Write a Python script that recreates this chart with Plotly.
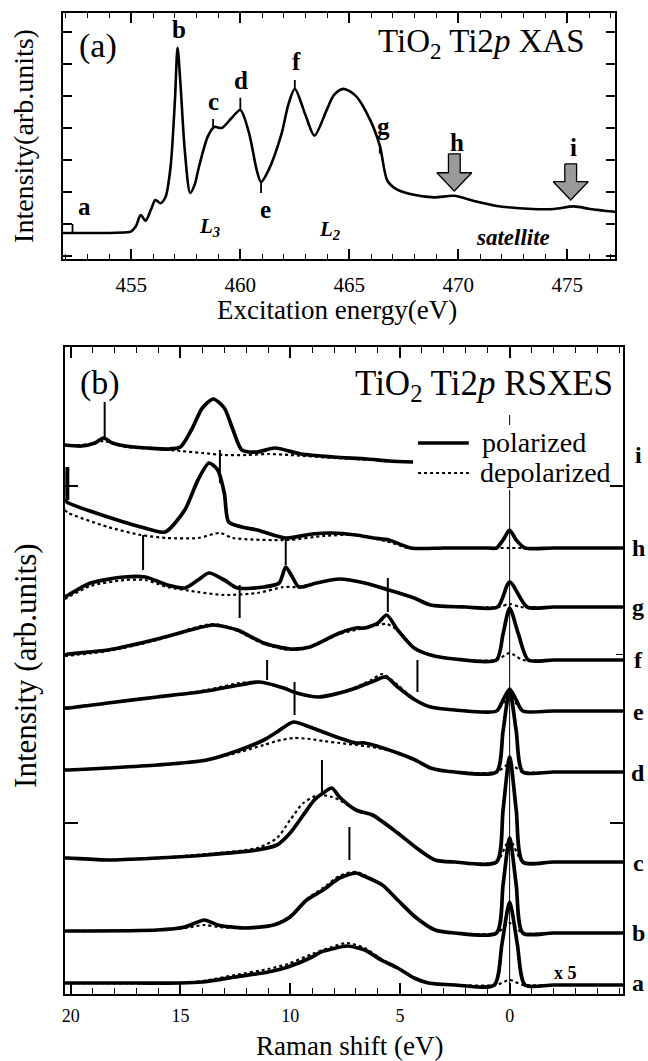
import plotly.graph_objects as go

W, H = 648, 1061

# ---------------- Panel (a): TiO2 Ti2p XAS ----------------
xas_energy = [451.85, 452.3, 454.0, 454.8, 454.97, 455.2, 455.43, 455.65, 455.9, 456.1,
              456.34, 456.57, 456.8, 457.0, 457.12, 457.25, 457.45, 457.7, 457.9, 458.1,
              458.5, 458.8, 459.15, 459.6, 460.0, 460.4, 460.75, 460.95, 461.3, 461.9,
              462.2, 462.5, 463.0, 463.4, 463.97, 464.3, 464.73, 465.3, 465.95, 466.4,
              466.75, 467.2, 467.9, 468.9, 469.8, 470.77, 471.7, 473.4, 474.4, 475.3,
              476.05, 477.2]
xas_intensity = [0.72, 0.72, 0.72, 0.74, 0.76, 0.92, 1.28, 1.10, 1.45, 1.75,
                 1.65, 1.85, 2.79, 4.88, 6.5, 5.41, 3.31, 1.97, 2.22, 2.78,
                 3.72, 4.03, 4.0, 4.31, 4.56, 3.84, 2.69, 2.31, 2.69, 3.84,
                 4.72, 5.22, 4.38, 3.76, 4.57, 5.03, 5.22, 5.0, 4.26, 3.45,
                 2.35, 2.07, 1.92, 1.83, 1.88, 1.71, 1.57, 1.47, 1.47, 1.55,
                 1.47, 1.38]

xas_labels = ["a", "b", "c", "d", "e", "f", "g", "h", "i"]
xas_label_energy = [452.84, 457.18, 458.78, 460.02, 461.14, 462.58, 466.58, 469.93, 475.27]
xas_label_y = [1.54, 7.08, 4.82, 5.47, 1.45, 6.08, 4.05, 3.56, 3.38]
# small vertical markers (energy, y bottom, y top)
xas_mark_energy = [452.3, 458.75, 460.0, 460.95, 462.5, 466.4]
xas_mark_lo = [0.72, 4.03, 4.56, 1.97, 5.22, 3.2]
xas_mark_hi = [1.0, 4.28, 4.94, 2.31, 5.50, 3.45]
# grey arrows (satellite)
arrow_energy = [469.82, 475.16]
arrow_top = [3.19, 2.875]
arrow_tip = [2.03, 1.75]

# ---------------- Panel (b): RSXES spectra ----------------
spec_names = ["a", "b", "c", "d", "e", "f", "g", "h", "i"]
offsets = [9, 61, 132, 222, 283, 334, 387, 446, 532]
label_y = [11, 61, 131, 221, 282, 334, 387, 446, 539]

a_pol_E = [20.27, 17, 15, 14, 12.5, 11, 10.1, 9.0, 8.6, 8.1, 7.4, 6.6, 5.85, 5.1, 4.35, 3.7, 2.5, 0.7, 0.35, 0, -0.35, -0.7, -2, -5.17]
a_pol_I = [2, 2, 2, 3, 8, 13, 18, 28, 33, 36, 39, 35, 25, 17, 7, 2, 0, 0, 41, 83, 41, 0, 0, 0]
a_dep_E = [20.27, 15, 14, 12.5, 11, 10.1, 9.0, 8.1, 7.4, 6.6, 5.85, 5.1, 4.35, 3.7, 2.5, 0.6, 0, -0.6, -2, -5.17]
a_dep_I = [2, 2, 4, 10, 16, 21, 31, 38, 42, 37, 26, 17, 7, 2, 0, 0, 5, 0, 0, 0]

b_pol_E = [20.27, 20.1, 16.05, 14.8, 13.9, 13.3, 12.1, 10.75, 10.0, 9.25, 8.5, 7.75, 7.0, 6.75, 5.8, 5.1, 4.3, 3.4, 2.5, 0.6, 0.3, 0, -0.3, -0.6, -2, -5.17]
b_pol_I = [2, 2, 3, 6, 13, 8, 5, 8, 16, 33, 43, 55, 60, 58, 48, 33, 16, 3, 0, 0, 48, 95, 48, 0, 0, 0]
b_dep_E = [20.27, 16.05, 14.8, 13.9, 13.3, 12.1, 10.75, 10.0, 9.25, 8.5, 7.75, 7.0, 5.8, 5.1, 4.3, 3.4, 2.5, 0.6, 0, -0.6, -2, -5.17]
b_dep_I = [2, 3, 5, 8, 6, 5, 8, 17, 34, 45, 57, 61, 48, 33, 16, 3, 0, 0, 10, 0, 0, 0]

c_pol_E = [20.27, 20.1, 18.3, 16.05, 13.8, 11.5, 10.6, 10.0, 9.4, 8.9, 8.5, 8.1, 7.75, 7.0, 6.25, 5.1, 4.3, 3.4, 2.5, 0.6, 0.3, 0, -0.3, -0.6, -2, -5.17]
c_pol_I = [4, 4, 2, 4, 7, 12, 17, 29, 47, 62, 69, 74, 65, 52, 47, 29, 15, 2, 0, 0, 52, 105, 52, 0, 0, 0]
c_dep_E = [20.27, 18.3, 16.05, 13.8, 11.5, 10.6, 10.0, 9.4, 8.7, 8.1, 7.75, 7.0, 6.25, 5.1, 4.3, 3.4, 2.5, 0.6, 0, -0.6, -2, -5.17]
c_dep_I = [4, 2, 4, 8, 14, 24, 42, 59, 67, 65, 62, 52, 47, 29, 15, 2, 0, 0, 22, 0, 0, 0]

d_pol_E = [20.27, 20.1, 18.3, 16.05, 13.8, 12.3, 11.2, 10.6, 9.85, 9.1, 8.5, 7.75, 7.0, 6.6, 5.1, 4.3, 3.6, 2.5, 0.6, 0.3, 0, -0.3, -0.6, -2, -5.17]
d_pol_I = [2, 2, 4, 7, 12, 22, 32, 40, 50, 45, 40, 34, 29, 29, 19, 12, 4, 0, 0, 41, 82, 41, 0, 0, 0]
d_dep_E = [20.27, 18.3, 16.05, 13.8, 12.3, 11.2, 10.6, 9.85, 9.1, 8.5, 7.75, 7.0, 6.0, 5.1, 4.3, 3.6, 2.5, 0.6, 0, -0.6, -2, -5.17]
d_dep_I = [2, 4, 7, 12, 20, 27, 31, 34, 33, 31, 29, 27, 24, 19, 12, 4, 0, 0, 8, 0, 0, 0]

e_pol_E = [20.27, 20.1, 18.3, 16.05, 13.8, 12.3, 11.4, 10.3, 9.7, 8.7, 7.75, 7.0, 6.3, 5.64, 5.1, 4.3, 3.6, 2.5, 0.6, 0.3, 0, -0.3, -0.6, -2, -5.17]
e_pol_I = [3, 3, 8, 14, 20, 26, 29, 23, 18, 14, 18, 23, 29, 34, 24, 11, 4, 1, 0, 11, 22, 11, 0, 0, 0]
e_dep_E = [20.27, 18.3, 16.05, 13.8, 12.3, 11.4, 10.3, 9.7, 8.7, 7.75, 7.0, 6.3, 5.8, 5.1, 4.3, 3.6, 2.5, 0.6, 0, -0.6, -2, -5.17]
e_dep_I = [3, 8, 14, 21, 28, 29, 23, 18, 14, 18, 24, 31, 37, 26, 11, 4, 1, 0, 15, 0, 0, 0]

f_pol_E = [20.27, 20.1, 18.3, 16.05, 14.55, 13.5, 12.4, 11.2, 10.0, 9.1, 7.75, 7.0, 6.6, 6.0, 5.6, 5.1, 4.35, 3.6, 2.5, 0.6, 0.3, 0.0, -0.4, -0.85, -2, -5.17]
f_pol_I = [5, 6, 10, 21, 30, 35, 30, 17, 11, 13, 27, 32, 32, 37, 45, 30, 12, 5, 1, 0, 26, 52, 26, 0, 0, 0]
f_dep_E = [20.27, 18.3, 16.05, 14.55, 13.5, 12.4, 11.2, 10.0, 9.1, 7.75, 6.6, 5.6, 5.0, 4.35, 3.6, 2.5, 0.6, 0, -0.6, -2, -5.17]
f_dep_I = [4, 9, 20, 31, 36, 29, 16, 10, 13, 26, 32, 36, 28, 12, 5, 1, 0, 7, 0, 0, 0]

g_pol_E = [20.27, 20.1, 19.1, 17.55, 16.6, 15.6, 14.8, 14.2, 13.7, 13.0, 12.4, 11.2, 10.5, 10.2, 9.9, 9.6, 8.8, 7.75, 6.6, 5.5, 4.35, 3.6, 2.0, 0.55, 0.0, -0.8, -2.0, -5.17]
g_pol_I = [10, 12, 24, 30, 30, 22, 19, 27, 34, 27, 19, 20, 24, 40, 30, 20, 24, 28, 24, 17, 9, 2, 0, 0, 25, 0, 0, 0]
g_dep_E = [20.27, 19.1, 17.55, 16.6, 15.6, 14.2, 13.0, 11.5, 10.3, 9.6, 8.8, 7.75, 6.6, 5.5, 4.35, 3.6, 2.0, 0.5, 0, -0.5, -2, -5.17]
g_dep_I = [8, 21, 27, 27, 20, 15, 12, 14, 20, 20, 24, 28, 24, 17, 9, 2, 0, 0, 3, 0, 0, 0]

h_pol_E = [20.27, 20.1, 18.3, 16.8, 15.7, 14.8, 14.2, 13.7, 13.3, 13.0, 12.8, 12.2, 11.5, 10.2, 9.0, 8.1, 7.0, 6.2, 5.5, 4.5, 3.0, 1.0, 0.6, 0.3, 0.0, -0.3, -0.7, -2.0, -5.17]
h_pol_I = [48, 45, 31, 21, 16, 38, 68, 85, 78, 55, 26, 21, 18, 10, 14, 15, 13, 10, 8, 0, 0, 0, 0, 8, 18, 8, 0, 0, 0]
h_dep_E = [20.27, 20.1, 18.3, 16.8, 15.6, 14.2, 13.2, 12.6, 10.1, 8.5, 7.0, 5.5, 4.6, 3, 0, -5.17]
h_dep_I = [38, 35, 21, 13, 10, 10, 15, 10, 8, 12, 13, 6, 0, 0, 0, 0]

i_pol_E = [20.27, 19.5, 18.9, 18.5, 18.1, 17.5, 16.5, 15.5, 15.0, 14.5, 14.0, 13.5, 13.0, 12.6, 12.2, 11.5, 10.7, 9.5, 8.0, 6.5, 5.5, 4.4]
i_pol_I = [17, 16, 19, 24, 19, 16, 14, 13, 15, 32, 54, 63, 54, 32, 12, 10, 14, 8, 5, 3, 1, 0]
i_dep_E = [20.27, 19.0, 18.5, 17.5, 16.0, 15.0, 14.0, 13.0, 12.0, 11.0, 10.0, 8.0, 6.0, 4.4]
i_dep_I = [16, 18, 21, 15, 13, 11, 9, 7, 7, 8, 7, 4, 2, 0]

pol_E = [a_pol_E, b_pol_E, c_pol_E, d_pol_E, e_pol_E, f_pol_E, g_pol_E, h_pol_E, i_pol_E]
pol_I = [a_pol_I, b_pol_I, c_pol_I, d_pol_I, e_pol_I, f_pol_I, g_pol_I, h_pol_I, i_pol_I]
dep_E = [a_dep_E, b_dep_E, c_dep_E, d_dep_E, e_dep_E, f_dep_E, g_dep_E, h_dep_E, i_dep_E]
dep_I = [a_dep_I, b_dep_I, c_dep_I, d_dep_I, e_dep_I, f_dep_I, g_dep_I, h_dep_I, i_dep_I]

# excitation markers in (b): (energy, y bottom, y top, width)
rs_mark_energy = [18.45, 0.0, 13.2, 20.15, 16.7, 10.2, 12.3, 5.55, 11.05, 4.2, 9.8, 8.55, 7.3]
rs_mark_lo = [557, 569, 511, 494, 424, 429, 376, 382, 314, 302, 279, 202, 134]
rs_mark_hi = [592, 579, 544, 527, 459, 456, 409, 416, 334, 334, 312, 234, 167]
rs_mark_w = [2, 1, 2, 4, 2, 2, 2, 2, 2, 2, 2, 2, 2]
elastic_line_top = 504

SERIF = "Liberation Serif"

fig = go.Figure()

# ---- panel (a) traces ----
fig.add_trace(go.Scatter(x=xas_energy, y=xas_intensity, mode="lines",
                         line=dict(color="black", width=2.6, shape="spline", smoothing=0.8),
                         xaxis="x", yaxis="y", showlegend=False, hoverinfo="skip"))
for e0, top, tip in zip(arrow_energy, arrow_top, arrow_tip):
    sw, hw = 0.27, 0.8
    base = tip + 0.57
    xs = [e0 - sw, e0 + sw, e0 + sw, e0 + hw, e0, e0 - hw, e0 - sw, e0 - sw]
    ys = [top, top, base, base, tip, base, base, top]
    fig.add_trace(go.Scatter(x=xs, y=ys, mode="lines", fill="toself",
                             fillcolor="#9a9a9a", line=dict(color="black", width=1.3),
                             xaxis="x", yaxis="y", showlegend=False, hoverinfo="skip"))
for e0, lo, hi in zip(xas_mark_energy, xas_mark_lo, xas_mark_hi):
    fig.add_trace(go.Scatter(x=[e0, e0], y=[lo, hi], mode="lines",
                             line=dict(color="black", width=1.8),
                             xaxis="x", yaxis="y", showlegend=False, hoverinfo="skip"))

# ---- panel (b) traces ----
for k in range(len(spec_names)):
    off = offsets[k]
    fig.add_trace(go.Scatter(x=dep_E[k], y=[off + v for v in dep_I[k]], mode="lines",
                             line=dict(color="black", width=2.2, dash="dot",
                                       shape="spline", smoothing=0.7),
                             xaxis="x2", yaxis="y2", showlegend=False, hoverinfo="skip"))
    fig.add_trace(go.Scatter(x=pol_E[k], y=[off + v for v in pol_I[k]], mode="lines",
                             line=dict(color="black", width=3.7,
                                       shape="spline", smoothing=0.7),
                             xaxis="x2", yaxis="y2", showlegend=False, hoverinfo="skip"))

fig.add_trace(go.Scatter(x=[0, 0], y=[0, elastic_line_top], mode="lines",
                         line=dict(color="black", width=1),
                         xaxis="x2", yaxis="y2", showlegend=False, hoverinfo="skip"))
for e0, lo, hi, w in zip(rs_mark_energy, rs_mark_lo, rs_mark_hi, rs_mark_w):
    fig.add_trace(go.Scatter(x=[e0, e0], y=[lo, hi], mode="lines",
                             line=dict(color="black", width=w),
                             xaxis="x2", yaxis="y2", showlegend=False, hoverinfo="skip"))

ann = []
def txt(x, y, s, size, xref="paper", yref="paper", font=SERIF, xanchor="center",
        yanchor="middle", angle=0):
    ann.append(dict(x=x, y=y, xref=xref, yref=yref, text=s, showarrow=False,
                    font=dict(family=font, size=size, color="black"),
                    xanchor=xanchor, yanchor=yanchor, textangle=angle))

# panel (a) texts
for lab, ex, ey in zip(xas_labels, xas_label_energy, xas_label_y):
    txt(ex, ey, "<b>%s</b>" % lab, 25, xref="x", yref="y")
txt(458.6, 0.9, "<b><i>L<sub>3</sub></i></b>", 21, xref="x", yref="y")
txt(464.07, 0.82, "<b><i>L<sub>2</sub></i></b>", 21, xref="x", yref="y")
txt(472.53, 0.59, "<b><i>satellite</i></b>", 23, xref="x", yref="y")
txt(95 / W, 1 - 46 / H, "(a)", 34)
txt(587 / W, 1 - 44 / H, "TiO<sub>2</sub> Ti2<i>p</i> XAS", 33, xanchor="right")
txt(336 / W, 1 - 310 / H, "Excitation energy(eV)", 27)
txt(20 / W, 1 - 136 / H, "Intensity(arb.units)", 28, angle=-90)

# panel (b) texts
for lab, ly in zip(spec_names, label_y):
    txt(638 / W, ly, "<b>%s</b>" % lab, 24, yref="y2")
txt(-2.55, 21, "<b>x 5</b>", 18, xref="x2", yref="y2")
txt(97 / W, 1 - 383 / H, "(b)", 34)
txt(615 / W, 1 - 385 / H, "TiO<sub>2</sub> Ti2<i>p</i> RSXES", 35, xanchor="right")
txt(479 / W, 1 - 442 / H, "polarized", 28, xanchor="left")
txt(477 / W, 1 - 472 / H, "depolarized", 28, xanchor="left")
txt(348 / W, 1 - 1046 / H, "Raman shift (eV)", 27)
txt(22 / W, 1 - 665 / H, "Intensity (arb.units)", 31, angle=-90)

shapes = [
    dict(type="line", xref="paper", yref="paper", x0=417 / W, x1=468 / W,
         y0=1 - 443 / H, y1=1 - 443 / H, line=dict(color="black", width=3.4)),
    dict(type="line", xref="paper", yref="paper", x0=417 / W, x1=468 / W,
         y0=1 - 473 / H, y1=1 - 473 / H, line=dict(color="black", width=2.2, dash="dot")),
]

axis_common = dict(showgrid=False, zeroline=False, showline=True, linecolor="black",
                   linewidth=2, mirror="allticks", ticks="inside", tickcolor="black")

fig.update_layout(
    width=W, height=H, margin=dict(l=0, r=0, t=0, b=0),
    paper_bgcolor="white", plot_bgcolor="white",
    showlegend=False, annotations=ann, shapes=shapes,
    xaxis=dict(domain=[60 / W, 615 / W], anchor="y", range=[451.85, 477.2],
               tickmode="linear", tick0=455, dtick=5, ticklen=10, tickwidth=1.6,
               tickfont=dict(family=SERIF, size=21, color="black"),
               ticklabelstandoff=6,
               minor=dict(tickmode="linear", tick0=455, dtick=1, ticklen=5,
                          tickwidth=1.3, ticks="inside", tickcolor="black"),
               **axis_common),
    yaxis=dict(domain=[1 - 259 / H, 1 - 13 / H], anchor="x", range=[-0.094, 7.59],
               tickmode="linear", tick0=0, dtick=1, ticklen=9, tickwidth=1.6,
               showticklabels=False, **axis_common),
    xaxis2=dict(domain=[62 / W, 623 / W], anchor="y2", range=[20.27, -5.17],
                tickmode="array", tickvals=[20, 15, 10, 5, 0],
                ticklen=11, tickwidth=1.6,
                tickfont=dict(family=SERIF, size=18, color="black"),
                ticklabelstandoff=4,
                minor=dict(tickmode="linear", tick0=0, dtick=1, ticklen=6,
                           tickwidth=1.3, ticks="inside", tickcolor="black"),
                **axis_common),
    yaxis2=dict(domain=[1 - 994 / H, 1 - 347 / H], anchor="x2", range=[0, 647],
                tickmode="array", tickvals=[171, 508], ticklen=13, tickwidth=1.6,
                showticklabels=False,
                minor=dict(tickmode="array", tickvals=[340], ticklen=7,
                           tickwidth=1.3, ticks="inside", tickcolor="black"),
                **axis_common),
)

fig.write_html("out.html")
